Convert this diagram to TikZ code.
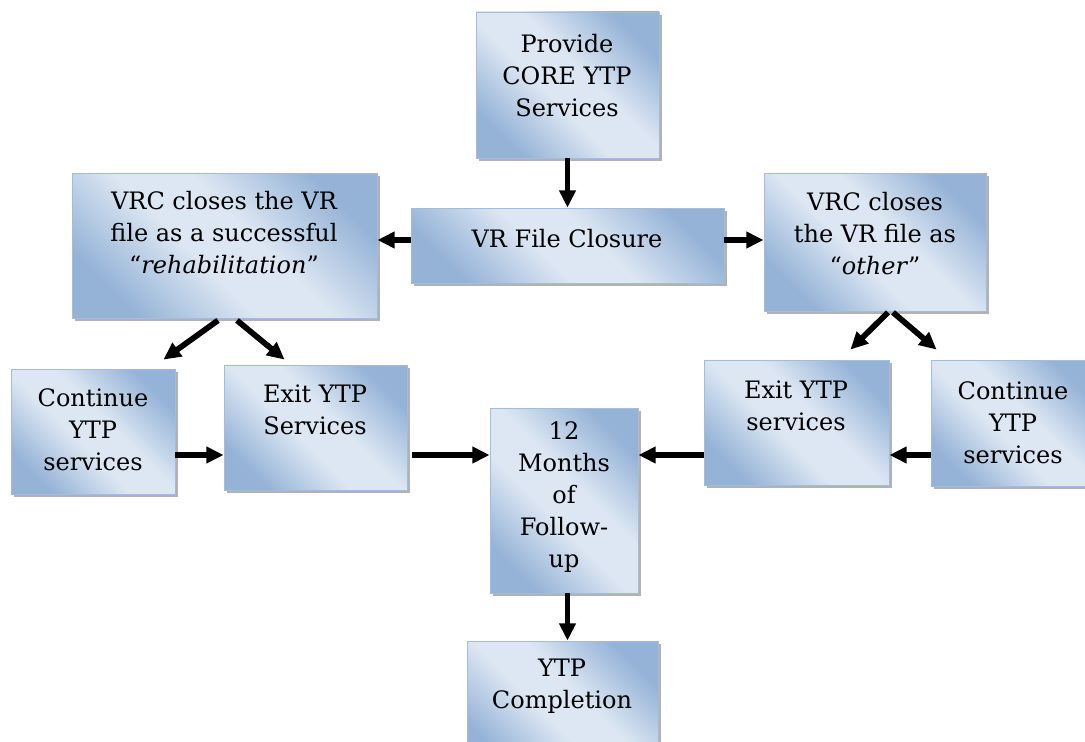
\documentclass[tikz,border=0pt]{standalone}
\usepackage{fontspec}
\setmainfont{DejaVu Serif}
\usetikzlibrary{arrows.meta,shadows,fit,calc}
\definecolor{boxdark}{HTML}{95B3D7}
\definecolor{boxlight}{HTML}{DDE7F3}
\definecolor{boxedge}{HTML}{A3BCDC}

% diagonal fill: darker corners, light band through the middle
\pgfdeclareverticalshading{boxshade}{100bp}{%
  color(0bp)=(boxdark); color(25bp)=(boxdark); color(44bp)=(boxlight);
  color(56bp)=(boxlight); color(75bp)=(boxdark); color(100bp)=(boxdark)}

\begin{document}
\begin{tikzpicture}[x=0.75pt,y=-0.75pt,
  box/.style={rectangle, inner sep=0pt, draw=boxedge, line width=0.6pt,
    shading=boxshade, shading angle=-45,
    drop shadow={shadow xshift=2.4pt, shadow yshift=-2.4pt, fill=black, opacity=0.3}},
  lbl/.style={align=center, inner sep=0pt, text=black,
    font=\fontsize{18}{24}\selectfont},
  arr/.style={line width=4.3pt, -{Triangle[length=13pt,width=12pt]}}]

% page area
\path[use as bounding box, fill=white] (0,0) rectangle (1085,742);

% boxes
\node[box, fit={(476,12) (659,158)}]  (prov)  {};
\node[box, fit={(411,208) (724,283)}] (vrf)   {};
\node[box, fit={(72,173) (377,318)}]  (vrcL)  {};
\node[box, fit={(764,173) (986,311)}] (vrcR)  {};
\node[box, fit={(11,369) (175,494)}]  (contL) {};
\node[box, fit={(224,365) (407,490)}] (exitL) {};
\node[box, fit={(490,408) (638,593)}] (mon)   {};
\node[box, fit={(467,641) (658,770)}] (ytp)   {};
\node[box, fit={(704,360) (889,485)}] (exitR) {};
\node[box, fit={(931,360) (1095,486)}] (contR) {};

% labels
\node[lbl] (tprov)  at (567,76)  {Provide\\CORE YTP\\Services};
\node[lbl] (tvrf)   at (567,239) {VR File Closure};
\node[lbl] (tvrcL)  at (224,233) {VRC closes the VR\\file as a successful\\“\textit{rehabilitation}”};
\node[lbl] (tvrcR)  at (875,234) {VRC closes\\the VR file as\\“\textit{other}”};
\node[lbl] (tcontL) at (93,430)  {Continue\\YTP\\services};
\node[lbl] (texitL) at (315,410) {Exit YTP\\Services};
\node[lbl] (tmon)   at (564,497) {12\\Months\\of\\Follow-\\up};
\node[lbl] (tytp)   at (562,686) {YTP\\Completion};
\node[lbl] (texitR) at (796,406) {Exit YTP\\services};
\node[lbl] (tcontR) at (1013,423) {Continue\\YTP\\services};

% connectors
\draw[arr] (prov.south) -- (vrf.north);
\draw[arr] (vrf.west |- 0,240) -- (vrcL.east |- 0,240);
\draw[arr] (vrf.east |- 0,240) -- (vrcR.west |- 0,240);
\draw[arr] ($(vrcL.south)+(-6.5,2)$) -- ($(contL.north east)+(-12,-9)$);
\draw[arr] ($(vrcL.south)+(12.5,2)$) -- ($(exitL.north west)+(61,-5)$);
\draw[arr] (contL.east |- 0,455) -- (exitL.west |- 0,455);
\draw[arr] ($(exitL.east |- 0,455)+(5,0)$) -- (mon.west |- 0,455);
\draw[arr] (exitR.west |- 0,455) -- (mon.east |- 0,455);
\draw[arr] (contR.west |- 0,455) -- (exitR.east |- 0,455);
\draw[arr] ($(vrcR.south)+(13,1)$) -- ($(exitR.north east)+(-39,-10)$);
\draw[arr] ($(vrcR.south)+(18,1)$) -- ($(contR.north west)+(6,-10)$);
\draw[arr] (mon.south -| prov.south) -- (ytp.north -| prov.south);
\end{tikzpicture}
\end{document}
